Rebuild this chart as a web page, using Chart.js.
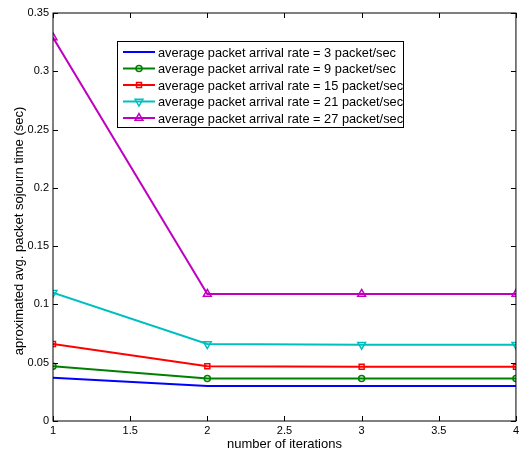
<!DOCTYPE html>
<html>
<head>
<meta charset="utf-8">
<script src="https://cdn.jsdelivr.net/npm/chart.js@4"></script>
<style>
  html, body { margin: 0; background: #fff; overflow: hidden; }
  #wrap { width: 522px; height: 452px; }
</style>
</head>
<body>
<div id="wrap"><canvas id="myChart"></canvas></div>
<script>
const iterations = [1, 2, 3, 4];
const rate3 = [0.037, 0.030, 0.030, 0.030];
const rate9 = [0.047, 0.0365, 0.0365, 0.0365];
const rate15 = [0.066, 0.047, 0.0465, 0.0465];
const rate21 = [0.110, 0.066, 0.0655, 0.0655];
const rate27 = [0.329, 0.109, 0.109, 0.109];
const xTicks = [1, 1.5, 2, 2.5, 3, 3.5, 4];
const yTicks = [0, 0.05, 0.1, 0.15, 0.2, 0.25, 0.3, 0.35];
const yTitle = 'aproximated avg. packet sojourn time (sec)';

const FONT = 'Liberation Sans, Arial, sans-serif';

function pts(vals) {
  return vals.map((v, i) => ({ x: iterations[i], y: v }));
}

function series(label, vals, color, style, r) {
  return {
    label: label,
    data: pts(vals),
    borderColor: color,
    backgroundColor: 'rgba(0,0,0,0)',
    pointBorderColor: color,
    pointBackgroundColor: 'rgba(0,0,0,0)',
    borderWidth: 2,
    pointBorderWidth: 1.5,
    pointStyle: style,
    pointRadius: r,
    pointHoverRadius: r,
    tension: 0,
    fill: false
  };
}

const data = {
  datasets: [
    series('average packet arrival rate = 3 packet/sec', rate3, '#0000ff', false, 0),
    series('average packet arrival rate = 9 packet/sec', rate9, '#008000', 'circle', 3),
    series('average packet arrival rate = 15 packet/sec', rate15, '#ff0000', 'rect', 3.5),
    series('average packet arrival rate = 21 packet/sec', rate21, '#00bfbf', 'triangle', 4.5),
    series('average packet arrival rate = 27 packet/sec', rate27, '#bf00bf', 'triangle', 4.5)
  ]
};
// downward triangle for the 21 packet/sec series
data.datasets[3].pointRotation = 180;

// box, inward ticks, y title and legend drawn like the matlab figure
const matlabBox = {
  id: 'matlabBox',
  afterDraw(chart) {
    const c = chart.ctx;
    const a = chart.chartArea;
    const xs = chart.scales.x, ys = chart.scales.y;
    c.save();
    c.strokeStyle = '#000';
    c.lineWidth = 1;
    c.strokeRect(a.left, a.top, a.right - a.left, a.bottom - a.top);
    c.beginPath();
    xTicks.forEach(t => {
      const px = Math.round(xs.getPixelForValue(t)) + 0.5;
      c.moveTo(px, a.bottom); c.lineTo(px, a.bottom - 5);
      c.moveTo(px, a.top); c.lineTo(px, a.top + 5);
    });
    yTicks.forEach(t => {
      const py = Math.round(ys.getPixelForValue(t)) + 0.5;
      c.moveTo(a.left, py); c.lineTo(a.left + 5, py);
      c.moveTo(a.right, py); c.lineTo(a.right - 5, py);
    });
    c.stroke();

    // y axis title
    c.save();
    c.translate(19, 231);
    c.rotate(-Math.PI / 2);
    c.font = '13px ' + FONT;
    c.fillStyle = '#000';
    c.textAlign = 'center';
    c.textBaseline = 'middle';
    c.fillText(yTitle, 0, 0);
    c.restore();

    // legend
    const lx = 117, ly = 41, lw = 286, lh = 86;
    c.fillStyle = '#fff';
    c.fillRect(lx, ly, lw, lh);
    c.font = '12.8px ' + FONT;
    c.textBaseline = 'middle';
    chart.data.datasets.forEach((ds, i) => {
      const y = ly + 11 + i * 16.5;
      c.strokeStyle = ds.borderColor;
      c.lineWidth = 2;
      c.beginPath();
      c.moveTo(lx + 6, y); c.lineTo(lx + 38, y);
      c.stroke();
      if (ds.pointStyle) {
        c.lineWidth = 1.5;
        c.fillStyle = 'rgba(0,0,0,0)';
        Chart.helpers.drawPoint(c, {
          pointStyle: ds.pointStyle, radius: ds.pointRadius,
          rotation: ds.pointRotation || 0, borderWidth: 1.5
        }, lx + 22, y);
      }
      c.fillStyle = '#000';
      c.fillText(ds.label, lx + 41, y + 1);
    });
    c.strokeStyle = '#000';
    c.lineWidth = 1;
    c.strokeRect(lx + 0.5, ly + 0.5, lw, lh);
    c.restore();
  }
};

const config = {
  type: 'line',
  data: data,
  plugins: [matlabBox],
  options: {
    responsive: true,
    maintainAspectRatio: false,
    animation: false,
    layout: { autoPadding: false, padding: { top: 13, right: -2, left: 0, bottom: 0 } },
    plugins: {
      legend: { display: false },
      tooltip: { enabled: false }
    },
    scales: {
      x: {
        type: 'linear',
        min: 1,
        max: 4,
        afterBuildTicks: s => { s.ticks = xTicks.map(v => ({ value: v })); },
        afterFit: s => { s.height = 31; },
        grid: { display: false, drawTicks: false },
        border: { display: false },
        ticks: { color: '#000', font: { family: FONT, size: 11 }, padding: 3, maxRotation: 0, callback: v => String(v) },
        title: { display: true, text: 'number of iterations', color: '#000', font: { family: FONT, size: 13 }, padding: 0 }
      },
      y: {
        type: 'linear',
        min: 0,
        max: 0.35,
        afterBuildTicks: s => { s.ticks = yTicks.map(v => ({ value: v })); },
        afterFit: s => { s.width = 53; },
        grid: { display: false, drawTicks: false },
        border: { display: false },
        ticks: { color: '#000', font: { family: FONT, size: 11 }, padding: 4, callback: v => String(v) }
      }
    }
  }
};

new Chart(document.getElementById('myChart').getContext('2d'), config);
</script>
</body>
</html>
